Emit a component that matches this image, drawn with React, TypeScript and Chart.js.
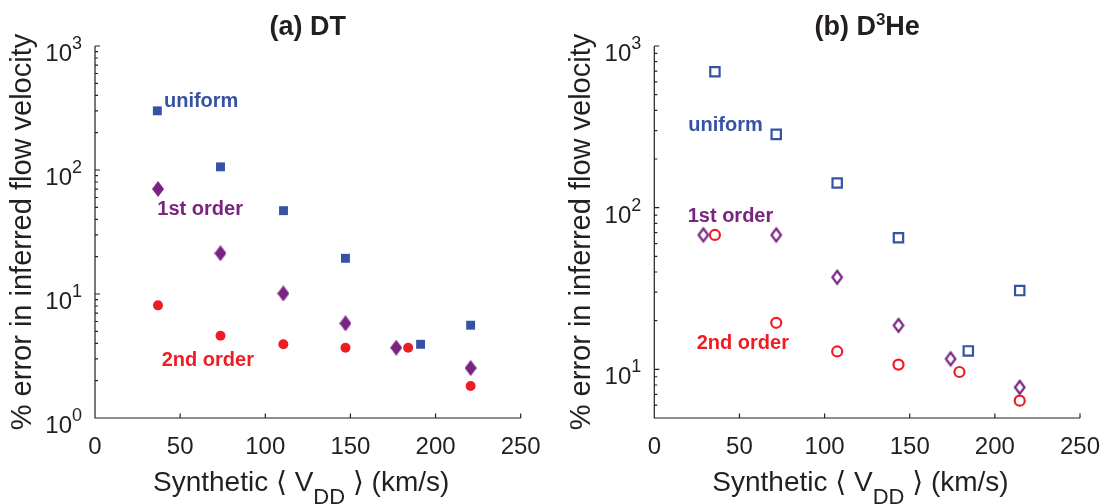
import React, { useEffect, useRef } from 'react';
import { Chart, registerables } from 'chart.js';

Chart.register(...registerables);

// ---------------- data ----------------
const xTicks = [0, 50, 100, 150, 200, 250];
const dtYTicks = [1, 10, 100, 1000];
const d3heYTicks = [10, 100, 1000];

// (a) DT
const dtUniformX = [36.6, 73.7, 110.7, 147.1, 191.2, 220.6];
const dtUniformY = [300, 106, 47, 19.4, 3.93, 5.6];
const dtFirstX = [37.0, 73.7, 110.6, 147.1, 176.9, 220.6];
const dtFirstY = [70.3, 21.3, 10.1, 5.8, 3.69, 2.53];
const dtSecondX = [37.0, 73.7, 110.6, 147.1, 183.9, 220.6];
const dtSecondY = [8.1, 4.6, 3.93, 3.69, 3.69, 1.81];

// (b) D3He
const heUniformX = [35.6, 71.6, 107.4, 143.4, 184.4, 214.6];
const heUniformY = [693, 284, 142, 65.2, 13.0, 30.7];
const heFirstX = [28.8, 71.6, 107.4, 143.4, 174.0, 214.6];
const heFirstY = [67.8, 67.8, 37.1, 18.7, 11.6, 7.74];
const heSecondX = [35.6, 71.6, 107.4, 143.4, 179.2, 214.6];
const heSecondY = [67.8, 19.4, 12.9, 10.7, 9.63, 6.4];

const seriesNames = ['uniform', '1st order', '2nd order'];

// ---------------- style ----------------
const BLUE = '#3652A3';
const PURPLE = '#7A2382';
const RED = '#EE1D24';
const AXIS = '#231F20';
const FONT = "'Liberation Sans', Arial, Helvetica, 'DejaVu Sans', sans-serif";

type Label = { text: string; x: number; y: number; color: string };
type PanelCfg = {
  titleParts: { t: string; sup?: boolean }[];
  yMin: number;
  yMax: number;
  yTicks: number[];
  padLeft: number;
  padRight: number;
  labels: Label[];
  datasets: any[];
};

function pts(xs: number[], ys: number[]) {
  return xs.map((x, i) => ({ x, y: ys[i] }));
}

function diamond(w: number, h: number, color: string, filled: boolean, lw: number) {
  const pad = filled ? 0 : 4;
  const c = document.createElement('canvas');
  c.width = Math.ceil(w + pad * 2);
  c.height = Math.ceil(h + pad * 2);
  const g = c.getContext('2d')!;
  const cx = c.width / 2;
  const cy = c.height / 2;
  g.beginPath();
  g.moveTo(cx, cy - h / 2);
  g.lineTo(cx + w / 2, cy);
  g.lineTo(cx, cy + h / 2);
  g.lineTo(cx - w / 2, cy);
  g.closePath();
  if (filled) {
    g.fillStyle = color;
    g.fill();
  } else {
    g.strokeStyle = color;
    g.lineWidth = lw;
    g.lineJoin = 'miter';
    g.stroke();
  }
  return c;
}

function supLabel(ctx: CanvasRenderingContext2D, base: string, exp: string, xRight: number, y: number) {
  ctx.font = `18px ${FONT}`;
  const ew = ctx.measureText(exp).width;
  ctx.textAlign = 'right';
  ctx.fillText(exp, xRight, y + 3);
  ctx.font = `24px ${FONT}`;
  ctx.fillText(base, xRight - ew, y + 15);
}

function decorPlugin(p: PanelCfg) {
  return {
    id: 'decor',
    beforeDatasetsDraw(chart: any) {
      const { ctx, chartArea } = chart;
      const { left, right, top, bottom } = chartArea;
      const xs = chart.scales.x;
      const ys = chart.scales.y;
      ctx.save();
      ctx.strokeStyle = AXIS;
      ctx.lineWidth = 1.2;
      ctx.beginPath();
      ctx.moveTo(left, top);
      ctx.lineTo(left, bottom);
      ctx.lineTo(right, bottom);
      for (const v of xTicks) {
        const px = xs.getPixelForValue(v);
        ctx.moveTo(px, bottom);
        ctx.lineTo(px, bottom - 4.5);
      }
      for (let d = 1; d <= p.yMax; d *= 10) {
        for (let m = 1; m < 10; m++) {
          const v = d * m;
          if (v < p.yMin || v > p.yMax) continue;
          const py = ys.getPixelForValue(v);
          const len = m === 1 ? 5 : 3;
          ctx.moveTo(left, py);
          ctx.lineTo(left + len, py);
        }
      }
      ctx.stroke();
      ctx.restore();
    },
    afterDraw(chart: any) {
      const { ctx, chartArea } = chart;
      const { left, right, top, bottom } = chartArea;
      const xs = chart.scales.x;
      const ys = chart.scales.y;
      ctx.save();
      ctx.fillStyle = AXIS;
      ctx.textBaseline = 'alphabetic';

      // x tick labels
      ctx.font = `24px ${FONT}`;
      ctx.textAlign = 'center';
      for (const v of xTicks) {
        ctx.fillText(String(v), xs.getPixelForValue(v), bottom + 36);
      }
      // y tick labels
      for (const v of p.yTicks) {
        const e = Math.round(Math.log10(v));
        supLabel(ctx, '10', String(e), left - 13, ys.getPixelForValue(v));
      }

      // x title
      ctx.textAlign = 'left';
      let x = left + 58;
      const by = bottom + 73;
      const seg = (t: string, size: number, dy: number) => {
        ctx.font = `${size}px ${FONT}`;
        ctx.fillText(t, x, by + dy);
        x += ctx.measureText(t).width;
      };
      seg('Synthetic ', 28, 0);
      seg('\u27E8 ', 28, 0);
      seg('V', 28, 0);
      seg('DD', 22, 13);
      seg(' \u27E9 ', 28, 0);
      seg('(km/s)', 28, 0);

      // y title
      ctx.save();
      ctx.translate(left - 72, (top + bottom) / 2);
      ctx.rotate(-Math.PI / 2);
      ctx.font = `29px ${FONT}`;
      ctx.textAlign = 'center';
      ctx.textBaseline = 'middle';
      ctx.fillText('% error in inferred flow velocity', 0, 0);
      ctx.restore();

      // title
      ctx.textAlign = 'left';
      ctx.textBaseline = 'alphabetic';
      let tw = 0;
      for (const part of p.titleParts) {
        ctx.font = part.sup ? `bold 17px ${FONT}` : `bold 27px ${FONT}`;
        tw += ctx.measureText(part.t).width;
      }
      let tx = (left + right) / 2 - tw / 2;
      for (const part of p.titleParts) {
        ctx.font = part.sup ? `bold 17px ${FONT}` : `bold 27px ${FONT}`;
        ctx.fillText(part.t, tx, part.sup ? 25 : 35);
        tx += ctx.measureText(part.t).width;
      }

      // series labels
      ctx.font = `bold 20px ${FONT}`;
      for (const l of p.labels) {
        ctx.fillStyle = l.color;
        ctx.fillText(l.text, xs.getPixelForValue(l.x), ys.getPixelForValue(l.y));
      }
      ctx.restore();
    },
  };
}

function Panel({ make, left }: { make: () => PanelCfg; left: number }) {
  const ref = useRef<HTMLCanvasElement | null>(null);
  useEffect(() => {
    const p = make();
    const chart = new Chart(ref.current!, {
      type: 'scatter',
      data: { datasets: p.datasets },
      options: {
        animation: false,
        responsive: false,
        devicePixelRatio: 1,
        layout: { padding: { left: p.padLeft, right: p.padRight, top: 46, bottom: 86 } },
        plugins: { legend: { display: false }, tooltip: { enabled: false } },
        scales: {
          x: { type: 'linear', min: 0, max: 250, display: false },
          y: { type: 'logarithmic', min: p.yMin, max: p.yMax, display: false },
        },
      },
      plugins: [decorPlugin(p)],
    } as any);
    return () => chart.destroy();
  }, []);
  return (
    <canvas
      ref={ref}
      width={552}
      height={504}
      style={{ position: 'absolute', left, top: 0, width: 552, height: 504, display: 'block' }}
    />
  );
}

function makeDT(): PanelCfg {
  const base = { showLine: false, clip: false as any };
  return {
    titleParts: [{ t: '(a) DT' }],
    yMin: 1,
    yMax: 1000,
    yTicks: dtYTicks,
    padLeft: 95,
    padRight: 31.3,
    labels: [
      { text: seriesNames[0], x: 40.5, y: 325, color: BLUE },
      { text: seriesNames[1], x: 36.6, y: 43.4, color: PURPLE },
      { text: seriesNames[2], x: 39.2, y: 2.62, color: RED },
    ],
    datasets: [
      { ...base, label: seriesNames[0], data: pts(dtUniformX, dtUniformY), pointStyle: 'rect', pointRadius: 6.3, pointBackgroundColor: BLUE, pointBorderWidth: 0 },
      { ...base, label: seriesNames[1], data: pts(dtFirstX, dtFirstY), pointStyle: diamond(12, 16, PURPLE, true, 0), pointRadius: 8 },
      { ...base, label: seriesNames[2], data: pts(dtSecondX, dtSecondY), pointStyle: 'circle', pointRadius: 5, pointBackgroundColor: RED, pointBorderWidth: 0 },
    ],
  };
}

function makeHe(): PanelCfg {
  const base = { showLine: false, clip: false as any };
  return {
    titleParts: [{ t: '(b) D' }, { t: '3', sup: true }, { t: 'He' }],
    yMin: 5,
    yMax: 1000,
    yTicks: d3heYTicks,
    padLeft: 102.3,
    padRight: 24,
    labels: [
      { text: seriesNames[0], x: 20, y: 300, color: BLUE },
      { text: seriesNames[1], x: 19.6, y: 81, color: PURPLE },
      { text: seriesNames[2], x: 24.9, y: 13.4, color: RED },
    ],
    datasets: [
      { ...base, label: seriesNames[0], data: pts(heUniformX, heUniformY), pointStyle: 'rect', pointRadius: 6.6, pointBackgroundColor: 'rgba(0,0,0,0)', pointBorderColor: BLUE, pointBorderWidth: 2.2 },
      { ...base, label: seriesNames[1], data: pts(heFirstX, heFirstY), pointStyle: diamond(9.5, 13, PURPLE, false, 2.2), pointRadius: 8 },
      { ...base, label: seriesNames[2], data: pts(heSecondX, heSecondY), pointStyle: 'circle', pointRadius: 5, pointBackgroundColor: 'rgba(0,0,0,0)', pointBorderColor: RED, pointBorderWidth: 2.2 },
    ],
  };
}

export default function App() {
  return (
    <div style={{ position: 'absolute', left: 0, top: 0, width: 1104, height: 504, background: '#fff', overflow: 'hidden' }}>
      <Panel make={makeDT} left={0} />
      <Panel make={makeHe} left={552} />
    </div>
  );
}
